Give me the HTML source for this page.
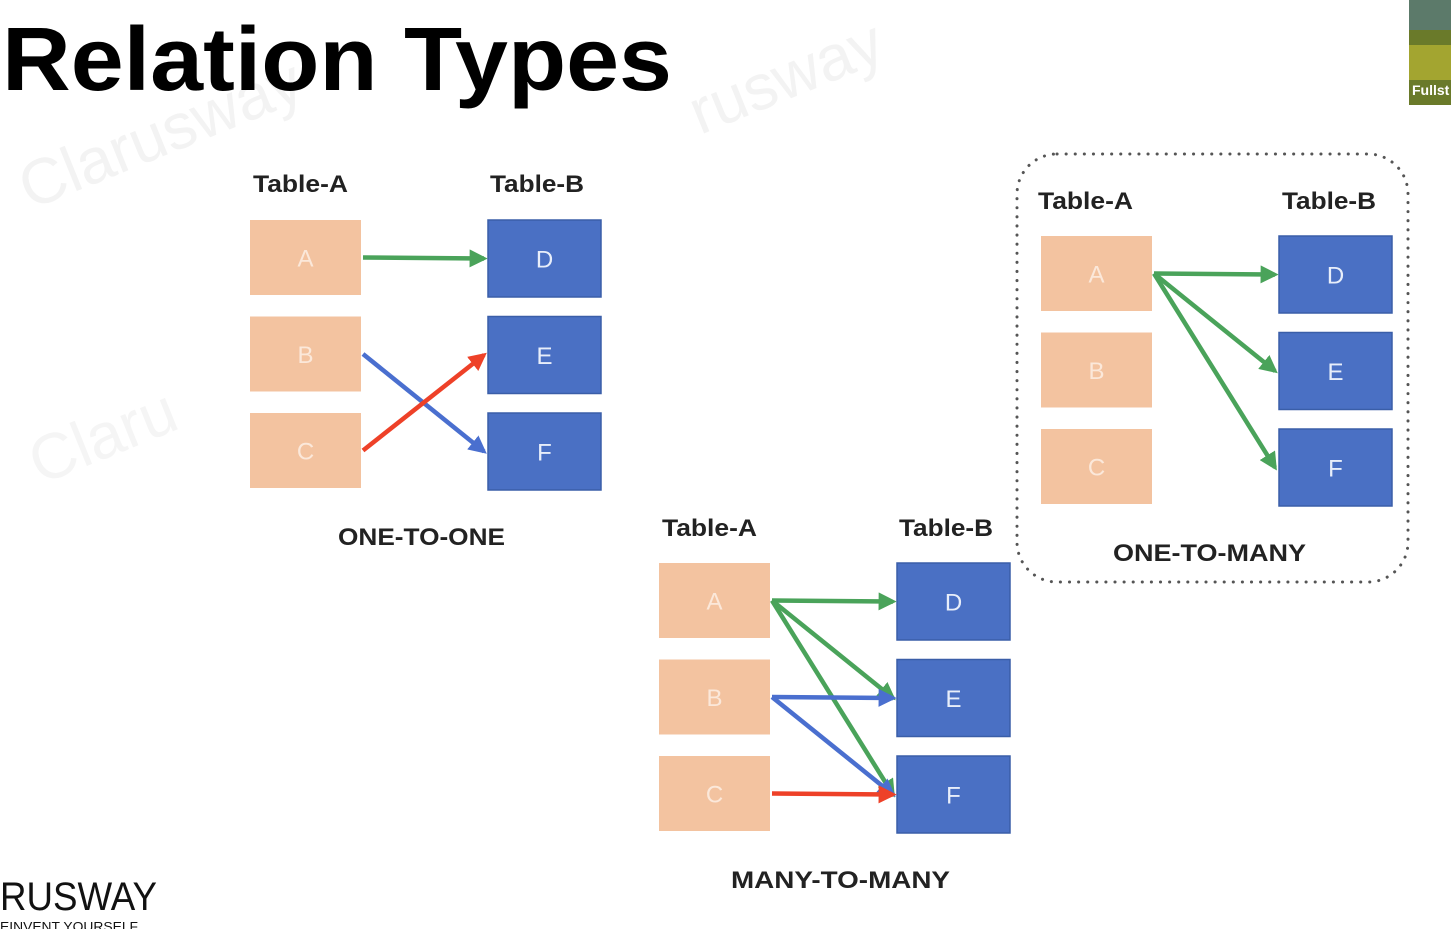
<!DOCTYPE html>
<html><head><meta charset="utf-8">
<style>
html,body{margin:0;padding:0;background:#fff;width:1451px;height:929px;overflow:hidden;font-family:"Liberation Sans",sans-serif;}
svg{position:absolute;left:0;top:0}
</style></head>
<body>
<svg id="s" width="1451" height="929" viewBox="0 0 1451 929">
<defs>
<marker id="mg" markerWidth="4" markerHeight="4" refX="3.2" refY="2" orient="auto" markerUnits="strokeWidth"><path d="M0,0 L4,2 L0,4 z" fill="#4aa35a"/></marker>
<marker id="mb" markerWidth="4" markerHeight="4" refX="3.2" refY="2" orient="auto" markerUnits="strokeWidth"><path d="M0,0 L4,2 L0,4 z" fill="#4a6fcf"/></marker>
<marker id="mr" markerWidth="4" markerHeight="4" refX="3.2" refY="2" orient="auto" markerUnits="strokeWidth"><path d="M0,0 L4,2 L0,4 z" fill="#ee4128"/></marker>
</defs>
<text x="30" y="210" font-size="64" fill="#f3f3f3" transform="rotate(-22 30 210)">Clarusway</text>
<text x="700" y="135" font-size="64" fill="#f3f3f3" transform="rotate(-22 700 135)">rusway</text>
<text x="40" y="485" font-size="64" fill="#f5f5f5" transform="rotate(-22 40 485)">Claru</text>
<text x="2" y="90" font-size="90" font-weight="bold" fill="#000" textLength="670" lengthAdjust="spacingAndGlyphs">Relation Types</text>
<g>
<rect x="1409" y="0" width="42" height="105" fill="#6a7a2a"/>
<rect x="1409" y="0" width="42" height="30" fill="#5c7a6a"/>
<rect x="1409" y="45" width="42" height="35" fill="#a3a530"/>
<text x="1412" y="95" font-size="14" font-weight="bold" fill="#fff">Fullst</text>
</g>
<rect x="1017" y="154" width="391" height="428" rx="40" fill="none" stroke="#555" stroke-width="3" stroke-dasharray="0.1 9" stroke-linecap="round"/>
<text x="0" y="910" font-size="40" fill="#111" textLength="157" lengthAdjust="spacingAndGlyphs">RUSWAY</text>
<text x="0" y="931" font-size="13" fill="#111" textLength="138" lengthAdjust="spacingAndGlyphs">EINVENT YOURSELF</text>
<g id="g"></g>
</svg>
<script>
const diagramNames = ["one-to-one","one-to-many","many-to-many"];
const diagramLabels = ["ONE-TO-ONE","ONE-TO-MANY","MANY-TO-MANY"];
const leftLetters = ["A","B","C"];
const rightLetters = ["D","E","F"];
// links: [fromIndex, toIndex, color]
const links0 = [[0,0,"g"],[1,2,"b"],[2,1,"r"]];
const links1 = [[0,0,"g"],[0,1,"g"],[0,2,"g"]];
const links2 = [[0,0,"g"],[0,1,"g"],[0,2,"g"],[1,1,"b"],[1,2,"b"],[2,2,"r"]];
const allLinks = [links0, links1, links2];

const layout = [
 {lx:250, rx:488, y0:220, hx:[253,490], hy:192, labX:338, labW:167, labY:545},
 {lx:1041, rx:1279, y0:236, hx:[1038,1282], hy:209, labX:1113, labW:193, labY:561},
 {lx:659, rx:897, y0:563, hx:[662,899], hy:536, labX:731, labW:219, labY:888}
];
const colors = {g:"#4aa35a", b:"#4a6fcf", r:"#ee4128"};
const NS="http://www.w3.org/2000/svg";
const G=document.getElementById('g');
function mk(tag, attrs, txt){const e=document.createElementNS(NS,tag);for(const k in attrs)e.setAttribute(k,attrs[k]);if(txt!==undefined)e.textContent=txt;G.appendChild(e);return e;}
const BW=111, BH=75, BRW=113, BRH=77, STEP=96.5;
diagramNames.forEach((nm,d)=>{
  const L=layout[d];
  let t=mk('text',{x:L.hx[0],y:L.hy,'font-size':24,'font-weight':'bold',fill:'#222',textLength:95,lengthAdjust:'spacingAndGlyphs'},'Table-A');
  
  
  t=mk('text',{x:L.hx[1],y:L.hy,'font-size':24,'font-weight':'bold',fill:'#222',textLength:94,lengthAdjust:'spacingAndGlyphs'},'Table-B');
  
  
  leftLetters.forEach((l,i)=>{
    const y=L.y0+i*STEP;
    const r=mk('rect',{x:L.lx,y:y,width:BW,height:BH,fill:'#f3c3a0'});
    
    
    const tx=mk('text',{x:L.lx+BW/2,y:y+BH/2+9,'font-size':24,fill:'#fbe8da','text-anchor':'middle'},l);
    
    
  });
  rightLetters.forEach((l,i)=>{
    const y=L.y0+i*STEP;
    const r=mk('rect',{x:L.rx,y:y,width:BRW,height:BRH,fill:'#4a70c4',stroke:'#3a5ea8','stroke-width':1.5});
    
    
    const tx=mk('text',{x:L.rx+BRW/2,y:y+BRH/2+9,'font-size':24,fill:'#e8eefa','text-anchor':'middle'},l);
    
    
  });
  allLinks[d].forEach(([a,b,c])=>{
    const x1=L.lx+BW+2, y1=L.y0+a*STEP+BH/2;
    const x2=L.rx-4, y2=L.y0+b*STEP+BRH/2;
    const p=mk('line',{x1:x1,y1:y1,x2:x2,y2:y2,stroke:colors[c],'stroke-width':4.5,'marker-end':'url(#m'+c+')'});
    
    
  });
  const lb=mk('text',{x:L.labX,y:L.labY,'font-size':24,'font-weight':'bold',fill:'#222',textLength:L.labW,lengthAdjust:'spacingAndGlyphs'},diagramLabels[d]);
  
  
});
</script>
</body></html>
